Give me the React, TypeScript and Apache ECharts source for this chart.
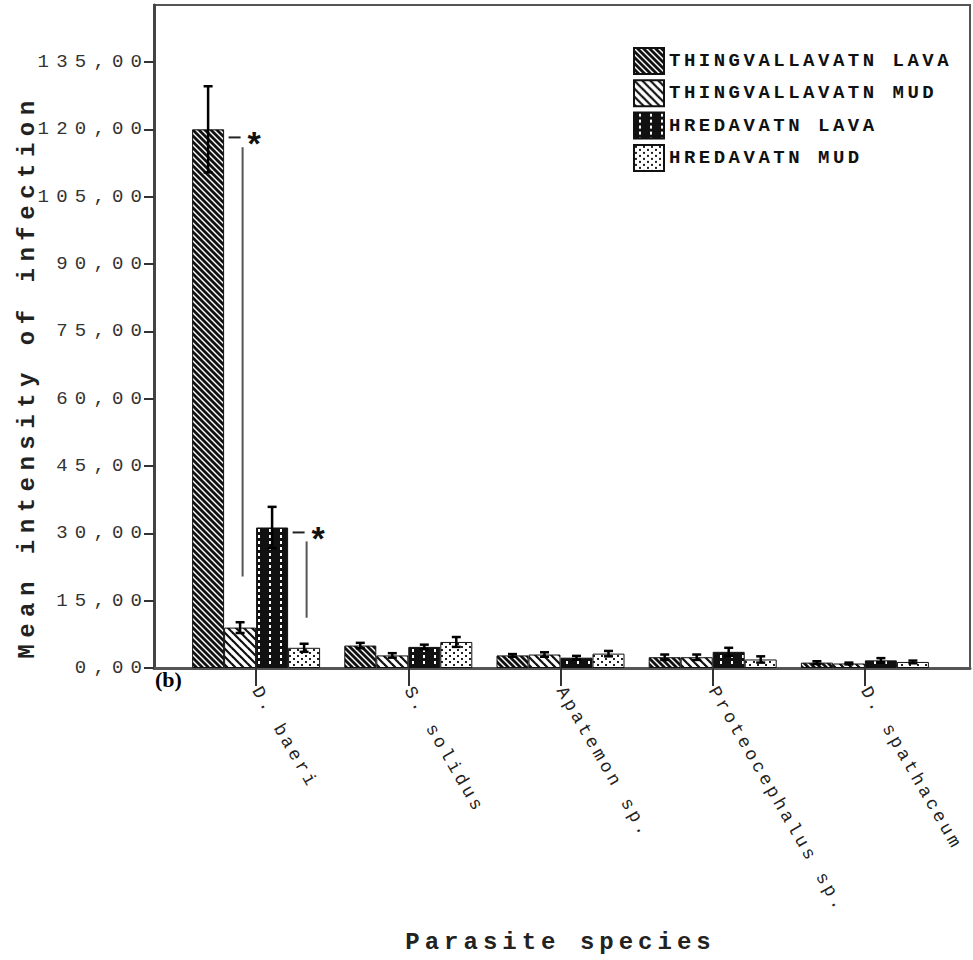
import React, { useEffect, useRef } from 'react';
import * as echarts from 'echarts';

// ---------- data ----------
const categories = ['D. baeri', 'S. solidus', 'Apatemon sp.', 'Proteocephalus sp.', 'D. spathaceum'];
const seriesNames = ['THINGVALLAVATN LAVA', 'THINGVALLAVATN MUD', 'HREDAVATN LAVA', 'HREDAVATN MUD'];
const thingvallavatnLava = [120, 5.0, 2.8, 2.4, 1.2];
const thingvallavatnLavaErr = [9.6, 0.6, 0.3, 0.6, 0.3];
const thingvallavatnMud = [9.0, 2.8, 3.0, 2.4, 1.0];
const thingvallavatnMudErr = [1.2, 0.5, 0.5, 0.6, 0.2];
const hredavatnLava = [31.3, 4.7, 2.3, 3.6, 1.7];
const hredavatnLavaErr = [4.6, 0.5, 0.4, 0.9, 0.5];
const hredavatnMud = [4.5, 5.8, 3.2, 1.9, 1.35];
const hredavatnMudErr = [0.9, 1.1, 0.6, 0.7, 0.3];
const yTicks = [0, 15, 30, 45, 60, 75, 90, 105, 120, 135];
const yMax = 147.7;
// significance markers (category index, series index of left bar, levels)
const sigCategory = [0, 0];
const sigSeries = [0, 2];
const sigLevel = [118.2, 30.2];
const sigLineTop = [116, 28.2];
const sigLineBottom = [20.4, 11.2];

const BAR_W = 32;
const MONO = "'Liberation Mono', 'DejaVu Sans Mono', monospace";
const fam = (tag: string) => `${MONO}, ${tag}`;

function makePattern(kind: string): HTMLCanvasElement {
  const c = document.createElement('canvas');
  let w = 8, h = 8;
  if (kind === 'TL') { w = 6; h = 6; }
  if (kind === 'TM') { w = 8; h = 8; }
  if (kind === 'HL') { w = 11; h = 6; }
  if (kind === 'HM') { w = 8; h = 6; }
  c.width = w; c.height = h;
  const ctx = c.getContext('2d')!;
  if (kind === 'TL' || kind === 'TM') {
    ctx.fillStyle = kind === 'TL' ? '#111' : '#fff';
    ctx.fillRect(0, 0, w, h);
    ctx.strokeStyle = kind === 'TL' ? '#fff' : '#111';
    ctx.lineWidth = kind === 'TL' ? 1.4 : 2.2;
    for (const k of [-w, 0, w]) {
      ctx.beginPath();
      ctx.moveTo(k - 1, -1);
      ctx.lineTo(k + w + 1, h + 1);
      ctx.stroke();
    }
  } else if (kind === 'HL') {
    ctx.fillStyle = '#111';
    ctx.fillRect(0, 0, w, h);
    ctx.fillStyle = '#fff';
    ctx.fillRect(5, 1, 2, 3);
  } else {
    ctx.fillStyle = '#fff';
    ctx.fillRect(0, 0, w, h);
    ctx.fillStyle = '#222';
    ctx.fillRect(1, 1, 2, 2);
    ctx.fillRect(5, 4, 2, 2);
  }
  return c;
}

export default function App() {
  const ref = useRef<HTMLDivElement>(null);

  useEffect(() => {
    if (!ref.current) return;
    const chart = echarts.init(ref.current, null, { renderer: 'svg' });

    const values = [thingvallavatnLava, thingvallavatnMud, hredavatnLava, hredavatnMud];
    const errors = [thingvallavatnLavaErr, thingvallavatnMudErr, hredavatnLavaErr, hredavatnMudErr];
    const kinds = ['TL', 'TM', 'HL', 'HM'];

    const barSeries = seriesNames.map((name, i) => ({
      type: 'bar',
      name,
      xAxisIndex: 1,
      yAxisIndex: 1,
      data: values[i],
      barWidth: BAR_W,
      barGap: '0%',
      itemStyle: {
        color: { image: makePattern(kinds[i]), repeat: 'repeat' },
        borderColor: '#111',
        borderWidth: 1,
      },
    }));

    const errData: number[][] = [];
    values.forEach((arr, s) => arr.forEach((v, c) => errData.push([c, s, v, errors[s][c]])));

    const sigData = sigCategory.map((c, i) => [c, sigSeries[i], sigLevel[i], sigLineTop[i], sigLineBottom[i]]);

    const option: any = {
      animation: false,
      backgroundColor: '#fff',
      grid: [
        { left: 154, right: 3, top: 5, bottom: 292, show: true, borderColor: '#555', borderWidth: 2 },
        { left: 180, right: 32, top: 5, bottom: 292 },
      ],
      legend: {
        orient: 'vertical',
        left: 628,
        top: 42,
        icon: 'rect',
        itemWidth: 30,
        itemHeight: 26,
        itemGap: 4.3,
        data: seriesNames,
        textStyle: { fontFamily: fam('lsLegend'), fontSize: 19, fontWeight: 'bold', color: '#111' },
      },
      xAxis: [
        {
          type: 'value', gridIndex: 0, min: 0, max: 1,
          axisLabel: { show: false }, axisTick: { show: false }, splitLine: { show: false },
          axisLine: { show: true, lineStyle: { color: '#555', width: 3 } },
        },
        {
          type: 'category', gridIndex: 1, data: categories,
          name: 'Parasite species', nameLocation: 'middle', nameGap: 262,
          nameTextStyle: { fontFamily: fam('lsXTitle'), fontSize: 24, fontWeight: 'bold', color: '#222' },
          axisLine: { show: false },
          axisTick: { show: true, alignWithLabel: true, length: 18, lineStyle: { color: '#333', width: 2 } },
          axisLabel: { rotate: -60, margin: 20, interval: 0, fontFamily: fam('lsCat'), fontSize: 18, color: '#222' },
          splitLine: { show: false },
        },
      ],
      yAxis: [
        {
          type: 'value', gridIndex: 0, min: 0, max: yMax,
          name: 'Mean intensity of infection', nameLocation: 'middle', nameGap: 115, nameRotate: 90,
          nameTextStyle: {
            fontFamily: fam('lsYTitle'), fontSize: 24, fontWeight: 'bold', color: '#222',
            padding: [0, 80, 0, 0],
          },
          axisLine: { show: true, lineStyle: { color: '#444', width: 3 } },
          axisTick: { show: true, length: 10, customValues: yTicks, lineStyle: { color: '#333', width: 2 } },
          axisLabel: {
            customValues: yTicks,
            formatter: (v: number) => v.toFixed(2).replace('.', ','),
            fontFamily: fam('lsTick'), fontSize: 19, color: '#333', margin: 4.8,
          },
          splitLine: { show: false },
        },
        {
          type: 'value', gridIndex: 1, min: 0, max: yMax, show: false, splitLine: { show: false },
        },
      ],
      series: [
        ...barSeries,
        {
          type: 'custom',
          xAxisIndex: 1,
          yAxisIndex: 1,
          data: errData,
          encode: { x: 0, y: 2 },
          z: 10,
          silent: true,
          renderItem: (params: any, api: any) => {
            const cat = api.value(0), s = api.value(1), mean = api.value(2), err = api.value(3);
            const c = api.coord([cat, mean]);
            const top = api.coord([cat, mean + err])[1];
            const bot = api.coord([cat, Math.max(0, mean - err)])[1];
            const x = c[0] + (s - 1.5) * BAR_W;
            const st = { stroke: '#000', lineWidth: 2.5 };
            return {
              type: 'group',
              children: [
                { type: 'line', shape: { x1: x, y1: top, x2: x, y2: bot }, style: st },
                { type: 'line', shape: { x1: x - 4.5, y1: top, x2: x + 4.5, y2: top }, style: st },
                { type: 'line', shape: { x1: x - 4.5, y1: bot, x2: x + 4.5, y2: bot }, style: st },
              ],
            };
          },
        },
        {
          type: 'custom',
          xAxisIndex: 1,
          yAxisIndex: 1,
          data: sigData,
          encode: { x: 0, y: 2 },
          z: 11,
          silent: true,
          renderItem: (params: any, api: any) => {
            const cat = api.value(0), s = api.value(1);
            const lvl = api.coord([cat, api.value(2)]);
            const top = api.coord([cat, api.value(3)])[1];
            const bot = api.coord([cat, api.value(4)])[1];
            const x0 = lvl[0] + (s - 1.5) * BAR_W + BAR_W / 2;
            return {
              type: 'group',
              children: [
                { type: 'line', shape: { x1: x0 + 4.5, y1: lvl[1], x2: x0 + 16.5, y2: lvl[1] }, style: { stroke: '#222', lineWidth: 2 } },
                { type: 'line', shape: { x1: x0 + 18.5, y1: top, x2: x0 + 18.5, y2: bot }, style: { stroke: '#555', lineWidth: 2 } },
                {
                  type: 'text', x: x0 + 30, y: lvl[1] + 6,
                  style: { text: '*', fontSize: 34, fontWeight: 'bold', fontFamily: "'Liberation Sans', sans-serif", fill: '#111', align: 'center', verticalAlign: 'middle' },
                },
              ],
            };
          },
        },
      ],
      graphic: [
        {
          type: 'text', left: 155, top: 668,
          style: { text: '(b)', fontFamily: "'Liberation Serif', serif", fontWeight: 'bold', fontSize: 22, fill: '#000' },
        },
      ],
    };

    chart.setOption(option);
    return () => chart.dispose();
  }, []);

  return (
    <div>
      <style>{`
        .chartbox text[style*="lsTick"] { letter-spacing: 7.2px; }
        .chartbox text[style*="lsLegend"] { letter-spacing: 3.5px; }
        .chartbox text[style*="lsYTitle"] { letter-spacing: 6.5px; }
        .chartbox text[style*="lsXTitle"] { letter-spacing: 5px; }
        .chartbox text[style*="lsCat"] { letter-spacing: 3.5px; }
      `}</style>
      <div
        ref={ref}
        className="chartbox"
        style={{ position: 'fixed', left: 0, top: 0, width: 973, height: 960, background: '#fff' }}
      />
    </div>
  );
}
